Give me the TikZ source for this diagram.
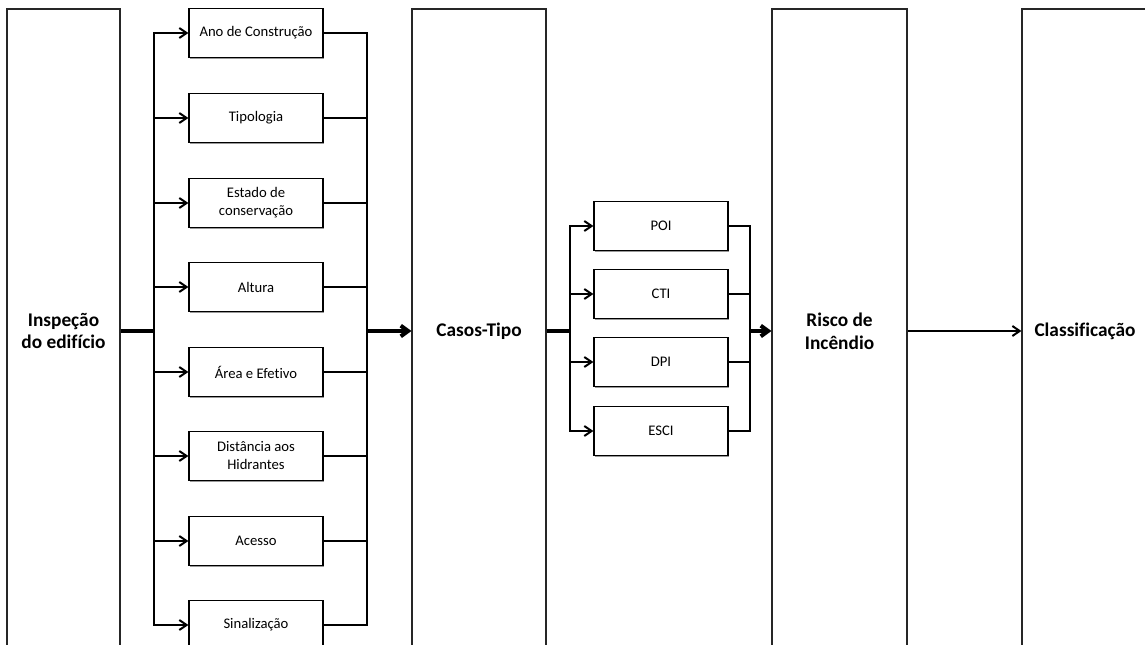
\documentclass[tikz,border=0pt]{standalone}
\usepackage{fontspec}
\setmainfont{Carlito}[Ligatures=NoCommon]
\usetikzlibrary{arrows.meta,shadows}
\begin{document}
\begin{tikzpicture}[x=0.75pt,y=-0.75pt,
  tall/.style={draw=black!85, line width=0.8pt, minimum width=#1, minimum height=483pt, inner sep=0pt, font=\fontsize{14.5}{17}\selectfont\bfseries, align=center},
  small/.style={draw, line width=0.9pt, fill=white, minimum width=100.5pt, minimum height=36.75pt, inner sep=0pt, align=center, font=\fontsize{11}{13.5}\selectfont, drop shadow={shadow xshift=1pt, shadow yshift=-1pt, opacity=0.4, fill=black}},
  conn/.style={line width=1.5pt},
  arr/.style={conn, -{Straight Barb[length=5.5pt,width=7.5pt]}},
  big/.style={line width=3pt},
  bigarr/.style={big, -{Straight Barb[length=5.5pt,width=8pt]}}
]
\useasboundingbox (0,0) rectangle (1145,645);
\clip (0,0) rectangle (1145,645);

% tall boxes
\node[tall=84.75pt] (insp) at (63.5,331) {Inspeção\\do edifício};
\node[tall=100.5pt] (casos) at (479,331) {Casos-Tipo};
\node[tall=101.25pt] (risco) at (839.5,331) {Risco de\\Incêndio};
\node[tall=94.5pt] (class) at (1085,331) {Classificação};

% first column of small boxes
\node[small] (a1) at (256,33) {Ano de Construção};
\node[small] (a2) at (256,118) {Tipologia};
\node[small] (a3) at (256,203) {Estado de\\conservação};
\node[small] (a4) at (256,287) {Altura};
\node[small] (a5) at (256,372) {Área e Efetivo};
\node[small] (a6) at (256,456) {Distância aos\\Hidrantes};
\node[small] (a7) at (256,541) {Acesso};
\node[small] (a8) at (256,625) {Sinalização};

% second column
\node[small] (b1) at (661,226) {POI};
\node[small] (b2) at (661,294) {CTI};
\node[small] (b3) at (661,362) {DPI};
\node[small] (b4) at (661,431) {ESCI};

% bus coordinates
\coordinate (la) at (154,33);
\coordinate (lb) at (154,625);
\coordinate (ra) at (367,33);
\coordinate (rb) at (367,625);
\coordinate (lc) at (570,226);
\coordinate (ld) at (570,431);
\coordinate (rc) at (750,226);
\coordinate (rd) at (750,431);

% column 1 buses
\draw[conn, line cap=rect] (la) -- (lb);
\draw[conn, line cap=rect] (ra) -- (rb);
\foreach \n in {a1,a2,a3,a4,a5,a6,a7,a8}{
  \draw[arr] (la |- \n.west) -- (\n.west);
  \draw[conn] (\n.east) -- (ra |- \n.east);
}
\draw[big] (insp.east) -- (la |- insp.east);
\draw[bigarr] (ra |- casos.west) -- (casos.west);

% column 2 buses
\draw[conn, line cap=rect] (lc) -- (ld);
\draw[conn, line cap=rect] (rc) -- (rd);
\foreach \n in {b1,b2,b3,b4}{
  \draw[arr] (lc |- \n.west) -- (\n.west);
  \draw[conn] (\n.east) -- (rc |- \n.east);
}
\draw[big] (casos.east) -- (lc |- casos.east);
\draw[bigarr] (rc |- risco.west) -- (risco.west);

% last arrow
\draw[arr] (risco.east) -- (class.west);
\end{tikzpicture}
\end{document}
